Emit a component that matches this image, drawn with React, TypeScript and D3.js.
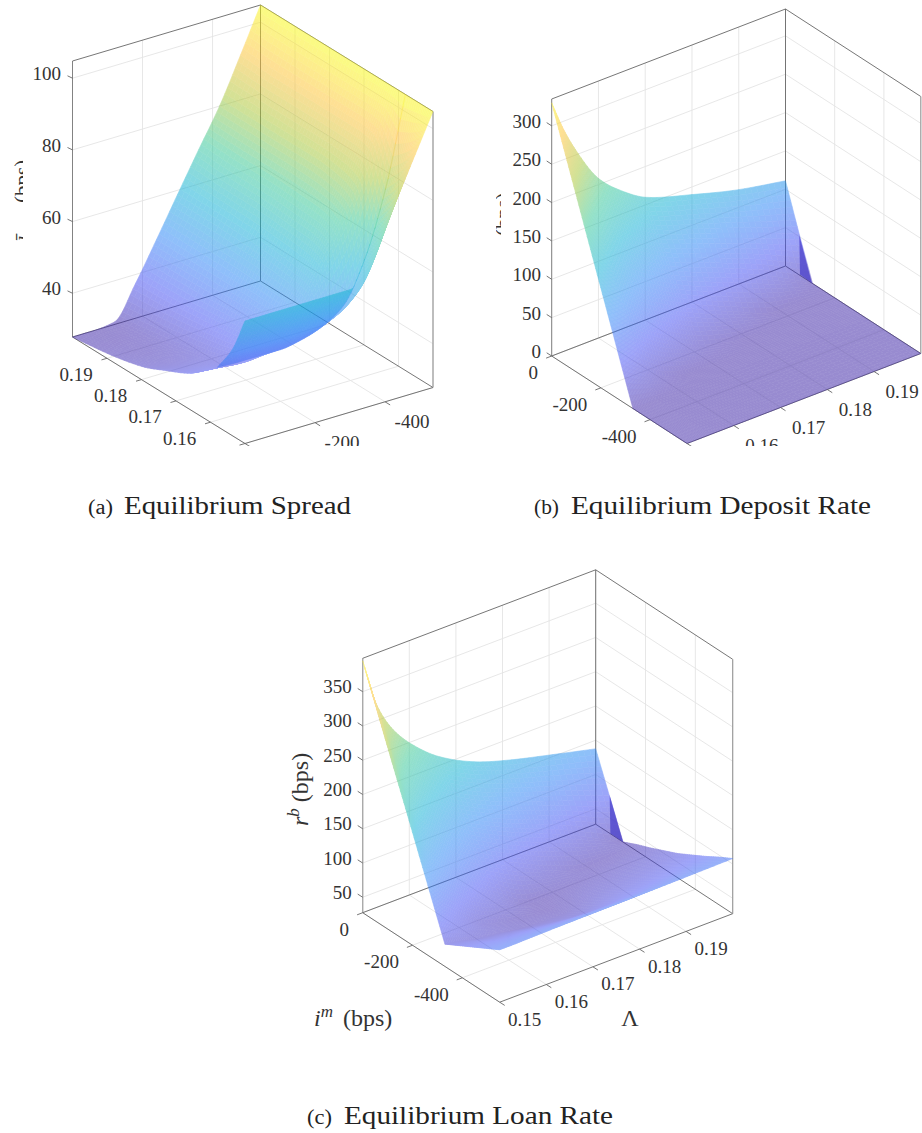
import React from 'react';
import * as d3 from 'd3';

// matlab parula, evenly spaced
const parula = ['#3e26a8', '#4752f4', '#2d87f7', '#12b1d6', '#37c897', '#abc739', '#fec338', '#f9fb15'];

const imTicks = [0, -200, -400];
const lamTicks = [0.15, 0.16, 0.17, 0.18, 0.19];

// (a) spread, split in two sheets because the surface folds over itself near low Lambda
const spreadIm = [0, -60, -120, -180, -240, -300, -360, -420, -480, -537];
const spreadLamMain = [0.158, 0.162, 0.166, 0.173, 0.18, 0.19, 0.2];
const spreadMain = [
  [44.3, 44, 44, 44, 45, 47, 51, 62, 80, 104.8],
  [41, 40.5, 40, 42, 47, 56, 66, 77, 91, 104.8],
  [37.9, 37.5, 37, 41, 48, 57, 68, 79, 92, 104.8],
  [34.5, 34, 34, 40, 48, 58, 68.5, 80, 92, 104.8],
  [31.5, 31, 32, 39, 48, 58.5, 69, 80, 92, 104.8],
  [29.2, 29, 30, 38, 48, 58.8, 69, 80, 92, 104.8],
  [27.8, 27.8, 28.5, 37.5, 48, 58.8, 69.5, 80, 92.5, 104.8],
];
const spreadLamWall = [0.15, 0.1535, 0.158];
const spreadWall = [
  [62, 62, 62, 62, 62, 62, 67.5, 80.5, 93, 104.8],
  [52.2, 52, 52, 52, 52.5, 53.5, 58, 70, 86, 104.8],
  [44.3, 44, 44, 44, 45, 47, 51, 62, 80, 104.8],
];
const spreadTicks = [40, 60, 80, 100];

// (b) deposit rate
const depositIm = [0, -55, -110, -165, -220, -275, -330, -440, -550];
const depositLam = [0.15, 0.1525, 0.155, 0.16, 0.165, 0.17, 0.18, 0.19, 0.2];
const depositZ = [
  [330, 275, 220, 165, 110, 55, 0, 0, 0],
  [290, 240, 190, 140, 90, 40, 0, 0, 0],
  [258, 212, 166, 120, 74, 28, 0, 0, 0],
  [208, 168, 128, 88, 48, 7, 0, 0, 0],
  [180, 142, 105, 67, 29, 0, 0, 0, 0],
  [160, 123, 87, 50, 13, 0, 0, 0, 0],
  [140, 101, 61, 22, 0, 0, 0, 0, 0],
  [123, 78, 34, 0, 0, 0, 0, 0, 0],
  [111, 54, 0, 0, 0, 0, 0, 0, 0],
];
const depositFoldIm = [-56, -59, -107];
const depositFoldZ = [52, 1, 0];
const depositTicks = [0, 50, 100, 150, 200, 250, 300];

// (c) loan rate
const loanIm = [0, -55, -110, -165, -220, -275, -330, -385, -440, -495, -550];
const loanLam = [0.15, 0.153, 0.1565, 0.161, 0.1666, 0.175, 0.182, 0.1895, 0.2];
const loanZ = [
  [395, 339, 283, 228, 172, 116, 60, 71, 82, 93, 104],
  [323, 276, 230, 183, 137, 90, 56, 68, 80, 92, 104],
  [278, 236, 195, 153, 112, 70, 50, 63, 77, 91, 104.5],
  [243, 204, 165, 126, 87, 48, 46, 60, 75, 90, 105],
  [212, 174, 137, 99, 62, 38, 40, 55, 71, 88, 105.5],
  [183, 145, 107, 68, 30, 31, 38, 50, 67, 87, 106],
  [168, 127, 87, 46, 33, 40, 48, 59, 72, 88, 106.5],
  [155, 109, 64, 32, 38, 46, 55, 66, 78, 92, 107],
  [137.5, 82, 27.5, 37, 45, 54, 63, 74, 85, 97, 108],
];
const loanFoldIm = [-56, -59, -110];
const loanFoldZ = [83, 28, 27.5];
const loanTicks = [50, 100, 150, 200, 250, 300, 350];

const serif = '"Liberation Serif", "Times New Roman", serif';
const ink = '#333';
const gridCol = '#e4e4e4';
const boxCol = '#666';
const surfaceAlpha = 0.53;

type Sheet = { lam: number[]; z: number[][] };

type Config = {
  clip: string;
  origin: [number, number];
  imVec: [number, number];
  lamVec: [number, number];
  height: number;
  imDomain: [number, number];
  zDomain: [number, number];
  wallIm: number; // im value of the back wall
  lamAxisIm: number; // where the Lambda ticks sit
  zAxis: [number, number]; // [im, lam] of the z ruler
  zAxisStroke: [string, number];
  rightEdge: [number, number]; // [im, lam] of the right vertical
  zTickDir: [number, number];
  lamTickDir: [number, number];
  lamLabel: [number, number];
  imLabel: [number, number];
  imAnchor: 'middle' | 'end';
  zLabel: [number, number];
  smoothIm: boolean;
  im: number[];
  sheets: Sheet[];
  zTicks: number[];
  fold?: { im: number[]; z: number[] };
};

// monotone cubic through the read-off values, so the surface curves without overshooting
function monotone(xs: number[], ys: number[]) {
  const n = xs.length;
  const h = d3.pairs(xs, (a, b) => b - a);
  const m = h.map((d, i) => (ys[i + 1] - ys[i]) / d);
  const t = xs.map((_, i) => {
    if (i === 0) return m[0];
    if (i === n - 1) return m[n - 2];
    if (m[i - 1] * m[i] <= 0) return 0;
    const w1 = 2 * h[i] + h[i - 1];
    const w2 = h[i] + 2 * h[i - 1];
    return (w1 + w2) / (w1 / m[i - 1] + w2 / m[i]);
  });
  return (x: number) => {
    const i = Math.max(0, Math.min(n - 2, d3.bisectRight(xs, x) - 1));
    const s = (x - xs[i]) / h[i];
    const s2 = s * s;
    const s3 = s2 * s;
    return (
      (2 * s3 - 3 * s2 + 1) * ys[i] +
      (s3 - 2 * s2 + s) * h[i] * t[i] +
      (3 * s2 - 2 * s3) * ys[i + 1] +
      (s3 - s2) * h[i] * t[i + 1]
    );
  };
}

function refine(xs: number[], sub: number) {
  const out: number[] = [];
  d3.pairs(xs).forEach(([a, b]) => {
    for (let i = 0; i < sub; i++) out.push(a + ((b - a) * i) / sub);
  });
  out.push(xs[xs.length - 1]);
  return out;
}

function Panel({ c }: { c: Config }) {
  const imT = d3.scaleLinear().domain(c.imDomain).range([0, 1]);
  const lamT = d3.scaleLinear().domain([0.15, 0.2]).range([0, 1]);
  const zS = d3.scaleLinear().domain(c.zDomain).range([0, c.height]);
  const colorT = d3.scaleLinear().domain(c.zDomain).range([0, 1]);
  const parulaS = d3
    .scaleLinear<string>()
    .domain(parula.map((_, i) => i / (parula.length - 1)))
    .range(parula)
    .clamp(true);

  const project = (im: number, lam: number, z: number): [number, number] => {
    const a = imT(im);
    const b = lamT(lam);
    return [
      c.origin[0] + a * c.imVec[0] + b * c.lamVec[0],
      c.origin[1] + a * c.imVec[1] + b * c.lamVec[1] - zS(z),
    ];
  };
  const floorZ = c.zDomain[0];
  const topZ = c.zDomain[1];
  const imEnd = c.imDomain[1];
  const otherIm = c.wallIm === imEnd ? 0 : imEnd;

  const line = d3.line();
  const seg = (p: [number, number], q: [number, number]) => line([p, q]) as string;
  const unit = (v: [number, number], l: number): [number, number] => {
    const n = Math.hypot(v[0], v[1]);
    return [(v[0] / n) * l, (v[1] / n) * l];
  };

  const imDir = unit([-c.lamVec[0], -c.lamVec[1]], 6);

  // shade the read-off grid finely, the way matlab's interp shading does
  const sub = 8;
  const renderSheet = (s: Sheet, key: number) => {
    const negIm = c.im.map((v) => -v);
    const alongIm = s.z.map((row) =>
      c.smoothIm ? monotone(negIm, row) : d3.scaleLinear().domain(negIm).range(row),
    );
    const fineIm = refine(negIm, sub);
    const fineLam = refine(s.lam, sub);
    // z[lamIndex][imIndex] on the fine grid
    const columns = fineIm.map((x) => {
      const f = monotone(s.lam, alongIm.map((g) => g(x)));
      return fineLam.map((l) => f(l));
    });
    const quads: React.ReactNode[] = [];
    for (let i = 0; i < fineIm.length - 1; i++) {
      for (let j = 0; j < fineLam.length - 1; j++) {
        const a = project(-fineIm[i], fineLam[j], columns[i][j]);
        const b = project(-fineIm[i + 1], fineLam[j], columns[i + 1][j]);
        const d = project(-fineIm[i + 1], fineLam[j + 1], columns[i + 1][j + 1]);
        const e = project(-fineIm[i], fineLam[j + 1], columns[i][j + 1]);
        const mean = (columns[i][j] + columns[i + 1][j] + columns[i + 1][j + 1] + columns[i][j + 1]) / 4;
        const col = parulaS(colorT(mean));
        quads.push(
          <path key={`${i}-${j}`} d={line([a, b, d, e]) + 'Z'} fill={col} stroke={col} strokeWidth={0.6} strokeLinejoin="round" />,
        );
      }
    }
    return (
      <g key={key} opacity={surfaceAlpha}>
        {quads}
      </g>
    );
  };

  return (
    <g clipPath={c.clip ? `url(#${c.clip})` : undefined} fontFamily={serif} fontSize={19} fill={ink}>
      {/* floor and wall grid */}
      <g stroke={gridCol} strokeWidth={0.9} fill="none">
        {imTicks.map((v) => (
          <g key={v}>
            <path d={seg(project(v, 0.15, floorZ), project(v, 0.2, floorZ))} />
            <path d={seg(project(v, 0.2, floorZ), project(v, 0.2, topZ))} />
          </g>
        ))}
        {lamTicks.map((v) => (
          <g key={v}>
            <path d={seg(project(0, v, floorZ), project(imEnd, v, floorZ))} />
            <path d={seg(project(c.wallIm, v, floorZ), project(c.wallIm, v, topZ))} />
          </g>
        ))}
        {c.zTicks.map((v) => (
          <g key={v}>
            <path d={seg(project(otherIm, 0.2, v), project(c.wallIm, 0.2, v))} />
            <path d={seg(project(c.wallIm, 0.15, v), project(c.wallIm, 0.2, v))} />
          </g>
        ))}
      </g>
      {/* box */}
      <g stroke={boxCol} strokeWidth={0.9} fill="none">
        <path
          d={seg(project(c.zAxis[0], c.zAxis[1], floorZ), project(c.zAxis[0], c.zAxis[1], topZ))}
          stroke={c.zAxisStroke[0]}
          strokeWidth={c.zAxisStroke[1]}
        />
        <path d={seg(project(c.wallIm, 0.2, floorZ), project(c.wallIm, 0.2, topZ))} />
        <path d={seg(project(otherIm, 0.2, topZ), project(c.wallIm, 0.2, topZ))} />
        <path d={seg(project(c.wallIm, 0.15, topZ), project(c.wallIm, 0.2, topZ))} />
        <path d={seg(project(otherIm, 0.2, floorZ), project(c.wallIm, 0.2, floorZ))} />
        <path d={seg(project(c.wallIm, 0.15, floorZ), project(c.wallIm, 0.2, floorZ))} />
        <path d={seg(project(otherIm, 0.15, floorZ), project(otherIm, 0.2, floorZ))} />
        <path d={seg(project(0, 0.15, floorZ), project(imEnd, 0.15, floorZ))} />
        <path
          d={seg(project(c.rightEdge[0], c.rightEdge[1], floorZ), project(c.rightEdge[0], c.rightEdge[1], topZ))}
          stroke="#999"
          strokeWidth={1.2}
        />
      </g>

      {c.sheets.map(renderSheet)}
      {c.fold && (
        <path
          d={line(c.fold.im.map((v, i) => project(v, 0.2, c.fold!.z[i]))) + 'Z'}
          fill={parulaS(0.06)}
          opacity={0.68}
        />
      )}

      {/* z ruler */}
      {c.zTicks.map((v) => {
        const p = project(c.zAxis[0], c.zAxis[1], v);
        return (
          <g key={v}>
            <path d={seg(p, [p[0] + c.zTickDir[0], p[1] + c.zTickDir[1]])} stroke={boxCol} strokeWidth={0.9} />
            <text x={p[0] + c.zLabel[0]} y={p[1] + c.zLabel[1]} textAnchor="end">
              {v}
            </text>
          </g>
        );
      })}
      {/* lambda ruler */}
      {lamTicks.map((v) => {
        const p = project(c.lamAxisIm, v, floorZ);
        return (
          <g key={v}>
            <path d={seg(p, [p[0] + c.lamTickDir[0], p[1] + c.lamTickDir[1]])} stroke={boxCol} strokeWidth={0.9} />
            <text x={p[0] + c.lamLabel[0]} y={p[1] + c.lamLabel[1]} textAnchor="middle">
              {d3.format('.2f')(v)}
            </text>
          </g>
        );
      })}
      {/* im ruler */}
      {imTicks.map((v) => {
        const p = project(v, 0.15, floorZ);
        return (
          <g key={v}>
            <path d={seg(p, [p[0] + imDir[0], p[1] + imDir[1]])} stroke={boxCol} strokeWidth={0.9} />
            <text x={p[0] + c.imLabel[0]} y={p[1] + c.imLabel[1]} textAnchor={c.imAnchor}>
              {v}
            </text>
          </g>
        );
      })}
    </g>
  );
}

const panelA: Config = {
  clip: 'clip-top',
  origin: [245, 443.5],
  imVec: [188, -56],
  lamVec: [-172.5, -106.5],
  height: 276,
  imDomain: [0, -537],
  zDomain: [27.8, 104.8],
  wallIm: -537,
  lamAxisIm: 0,
  zAxis: [0, 0.2],
  zAxisStroke: ['#777', 0.9],
  rightEdge: [-537, 0.15],
  zTickDir: [-5, -2.4],
  lamTickDir: [-5.5, 1.6],
  lamLabel: [-31, 22.5],
  imLabel: [27, 26.5],
  imAnchor: 'middle',
  zLabel: [-11.5, 2],
  smoothIm: true,
  im: spreadIm,
  sheets: [
    { lam: spreadLamMain, z: spreadMain },
    { lam: spreadLamWall, z: spreadWall },
  ],
  zTicks: spreadTicks,
};

const panelB: Config = {
  clip: 'clip-top',
  origin: [551.7, 356],
  imVec: [135.3, 87.5],
  lamVec: [233.8, -90],
  height: 257,
  imDomain: [0, -550],
  zDomain: [0, 335],
  wallIm: 0,
  lamAxisIm: -550,
  zAxis: [0, 0.15],
  zAxisStroke: ['#777', 0.9],
  rightEdge: [-550, 0.2],
  zTickDir: [-5, -3.2],
  lamTickDir: [5, 3.2],
  lamLabel: [28, 26],
  imLabel: [-13.6, 23],
  imAnchor: 'end',
  zLabel: [-10.7, 2],
  smoothIm: false,
  im: depositIm,
  sheets: [{ lam: depositLam, z: depositZ }],
  zTicks: depositTicks,
  fold: { im: depositFoldIm, z: depositFoldZ },
};

const panelC: Config = {
  clip: '',
  origin: [362.7, 912.7],
  imVec: [137, 89.5],
  lamVec: [233, -88.5],
  height: 254.4,
  imDomain: [0, -550],
  zDomain: [27.5, 398.7],
  wallIm: 0,
  lamAxisIm: -550,
  zAxis: [0, 0.15],
  zAxisStroke: ['#aaa', 1.4],
  rightEdge: [-550, 0.2],
  zTickDir: [-5, -3.2],
  lamTickDir: [5, 3.2],
  lamLabel: [25, 23.5],
  imLabel: [-13.6, 23],
  imAnchor: 'end',
  zLabel: [-11, 1.5],
  smoothIm: false,
  im: loanIm,
  sheets: [{ lam: loanLam, z: loanZ }],
  zTicks: loanTicks,
  fold: { im: loanFoldIm, z: loanFoldZ },
};

function Caption({ tag, tagX, x, len, y, text }: { tag: string; tagX: number; x: number; len: number; y: number; text: string }) {
  return (
    <g fontFamily={serif} fill="#222">
      <text x={tagX} y={y} fontSize={20} textLength={25} lengthAdjust="spacingAndGlyphs">
        {tag}
      </text>
      <text x={x} y={y} fontSize={26} textLength={len} lengthAdjust="spacingAndGlyphs">
        {text}
      </text>
    </g>
  );
}

export default function App() {
  return (
    <svg width={922} height={1133} style={{ position: 'absolute', left: 0, top: 0, background: '#fff' }}>
      <defs>
        <clipPath id="clip-top">
          <rect x={0} y={0} width={922} height={446} />
        </clipPath>
        <clipPath id="clip-ya">
          <rect x={13} y={140} width={10} height={110} />
        </clipPath>
        <clipPath id="clip-yb">
          <rect x={496} y={180} width={5} height={70} />
        </clipPath>
      </defs>

      <Panel c={panelA} />
      <Panel c={panelB} />
      <Panel c={panelC} />

      {/* y labels of the top two are cut by the page crop */}
      <g fontFamily={serif} fontSize={24} fill={ink}>
        <g clipPath="url(#clip-ya)" fontSize={21}>
          <text transform="translate(28.5,241) rotate(-90)" fontStyle="italic">
            ī
          </text>
          <text transform="translate(28.5,203) rotate(-90)">(bps)</text>
        </g>
        <g clipPath="url(#clip-yb)" fontSize={21}>
          <text transform="translate(510,236) rotate(-90)">(bps)</text>
        </g>
        <text transform="translate(308,826) rotate(-90)">
          <tspan fontStyle="italic">r</tspan>
          <tspan dy={-9} fontSize={17} fontStyle="italic">
            b
          </tspan>
          <tspan dy={9}> (bps)</tspan>
        </text>
        <text x={314} y={1026}>
          <tspan fontStyle="italic">i</tspan>
          <tspan dy={-9} fontSize={17} fontStyle="italic">
            m
          </tspan>
          <tspan dy={9} dx={10}>
            (bps)
          </tspan>
        </text>
        <text x={630} y={1026} textAnchor="middle">
          Λ
        </text>
      </g>

      <Caption tag="(a)" tagX={88} x={124} len={227} y={514} text="Equilibrium Spread" />
      <Caption tag="(b)" tagX={534} x={571} len={300} y={514} text="Equilibrium Deposit Rate" />
      <Caption tag="(c)" tagX={307} x={344} len={269} y={1124} text="Equilibrium Loan Rate" />
    </svg>
  );
}
